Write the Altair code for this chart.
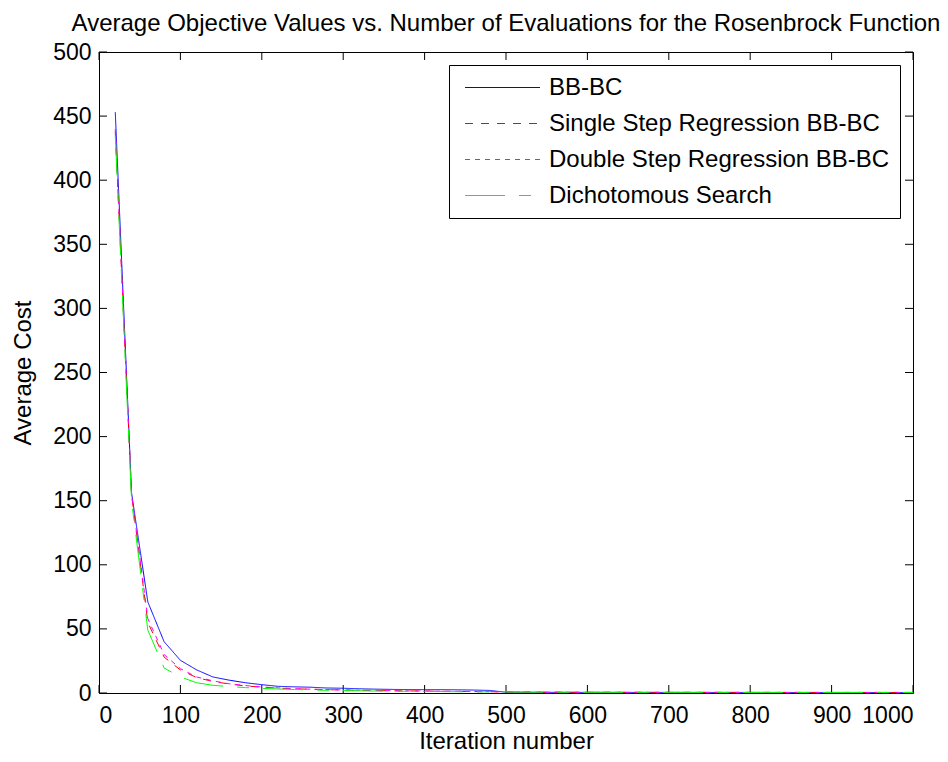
import altair as alt
import pandas as pd

FONT = "Liberation Sans"

iters = list(range(20, 1001, 20))

bbbc = [453, 156, 71, 40, 25.5, 18, 12.5, 10, 8, 6.5,
        5.2, 4.8, 4.5, 3.9, 3.7, 3.3, 3.0, 2.8, 2.7, 2.6,
        2.6, 2.5, 2.3, 2.0, 0.6, 0.55, 0.5, 0.5, 0.48, 0.47,
        0.46, 0.45, 0.45, 0.44, 0.44, 0.43, 0.43, 0.42, 0.42, 0.41,
        0.41, 0.40, 0.40, 0.40, 0.39, 0.39, 0.39, 0.38, 0.38, 0.38]

single = [438, 155, 55, 28, 18, 12, 9, 7, 5.5, 4.5,
          3.8, 3.3, 2.9, 2.6, 2.3, 2.1, 1.9, 1.7, 1.6, 1.5,
          1.3, 1.2, 1.1, 1.0, 0.8, 0.7, 0.65, 0.6, 0.58, 0.56,
          0.55, 0.54, 0.53, 0.52, 0.51, 0.50, 0.50, 0.49, 0.48, 0.48,
          0.47, 0.47, 0.46, 0.46, 0.45, 0.45, 0.44, 0.44, 0.43, 0.43]

double = [440, 155, 58, 30, 19, 12.5, 9.5, 7.2, 5.8, 4.7,
          4.0, 3.4, 3.0, 2.7, 2.4, 2.2, 2.0, 1.8, 1.7, 1.6,
          1.4, 1.3, 1.2, 1.1, 0.9, 0.8, 0.7, 0.65, 0.6, 0.58,
          0.56, 0.55, 0.54, 0.53, 0.52, 0.51, 0.50, 0.50, 0.49, 0.48,
          0.48, 0.47, 0.47, 0.46, 0.46, 0.45, 0.45, 0.44, 0.44, 0.43]

dicho = [435, 150, 49, 19.5, 12.5, 8, 6, 5, 4.2, 3.6,
         3.1, 2.7, 2.4, 2.1, 1.9, 1.7, 1.5, 1.4, 1.3, 1.2,
         1.1, 1.0, 0.9, 0.85, 0.8, 0.7, 0.65, 0.6, 0.58, 0.55,
         0.54, 0.53, 0.52, 0.51, 0.50, 0.50, 0.49, 0.48, 0.48, 0.47,
         0.47, 0.46, 0.46, 0.45, 0.45, 0.44, 0.44, 0.43, 0.43, 0.42]

series_names = ["BB-BC", "Single Step Regression BB-BC",
                "Double Step Regression BB-BC", "Dichotomous Search"]
series_values = [bbbc, single, double, dicho]
series_colors = ["#0000ff", "#ff0000", "#ff00ff", "#00ff00"]
series_dash = [[1, 0], [8, 8], [5, 5], [40, 14, 12, 14]]

x_ticks = list(range(0, 1001, 100))
y_ticks = list(range(0, 501, 50))

title_text = "Average Objective Values vs. Number of Evaluations for the Rosenbrock Function"

rows = []
for name, vals in zip(series_names, series_values):
    for it, v in zip(iters, vals):
        rows.append({"iter": it, "cost": v, "series": name})
df = pd.DataFrame(rows)

W, H = 814, 641
TICK = 8

xscale = alt.Scale(domain=[0, 1000], nice=False, zero=False)
yscale = alt.Scale(domain=[0, 500], nice=False, zero=False)

legend = alt.Legend(
    title=None, orient="none", legendX=350, legendY=13,
    symbolType="M-3.125,0H3.125", symbolSize=576, symbolStrokeWidth=1,
    symbolOffset=31, labelOffset=34, padding=10, rowPadding=11,
    labelFont=FONT, labelFontSize=24, labelColor="black", labelLimit=600,
    strokeColor="black", fillColor="white",
)

lines = alt.Chart(df).mark_line(strokeWidth=1, clip=True).encode(
    x=alt.X("iter:Q", scale=xscale,
            axis=alt.Axis(values=x_ticks, title="Iteration number", format="d",
                          labelPadding=11, titlePadding=2)),
    y=alt.Y("cost:Q", scale=yscale,
            axis=alt.Axis(values=y_ticks, title="Average Cost", format="d",
                          labelPadding=8, titlePadding=17)),
    color=alt.Color("series:N", sort=series_names,
                    scale=alt.Scale(domain=series_names, range=series_colors),
                    legend=legend),
    strokeDash=alt.StrokeDash("series:N", sort=series_names,
                              scale=alt.Scale(domain=series_names, range=series_dash),
                              legend=legend),
)

xt = pd.DataFrame({"iter": x_ticks})
yt = pd.DataFrame({"cost": y_ticks})

bottom_ticks = alt.Chart(xt).mark_rule(strokeWidth=1).encode(
    x=alt.X("iter:Q", scale=xscale), y=alt.value(H), y2=alt.value(H - TICK))
top_ticks = alt.Chart(xt).mark_rule(strokeWidth=1).encode(
    x=alt.X("iter:Q", scale=xscale), y=alt.value(0), y2=alt.value(TICK))
left_ticks = alt.Chart(yt).mark_rule(strokeWidth=1).encode(
    y=alt.Y("cost:Q", scale=yscale), x=alt.value(0), x2=alt.value(TICK))
right_ticks = alt.Chart(yt).mark_rule(strokeWidth=1).encode(
    y=alt.Y("cost:Q", scale=yscale), x=alt.value(W), x2=alt.value(W - TICK))

chart = alt.layer(bottom_ticks, top_ticks, left_ticks, right_ticks, lines).properties(
    width=W, height=H,
    title=alt.TitleParams(title_text, font=FONT, fontSize=24, fontWeight="normal",
                          color="black", anchor="middle", offset=5),
    autosize=alt.AutoSizeParams(type="none"),
    padding={"left": 91, "top": 44, "right": 27, "bottom": 60},
).configure_view(
    stroke="black", strokeWidth=1
).configure_rule(
    color="black"
).configure_axis(
    domain=False, ticks=False, grid=False,
    labelFont=FONT, labelFontSize=23, labelColor="black",
    titleFont=FONT, titleFontSize=24, titleFontWeight="normal", titleColor="black",
)

chart.save("out.html", embed_options={"renderer": "svg", "actions": False})
